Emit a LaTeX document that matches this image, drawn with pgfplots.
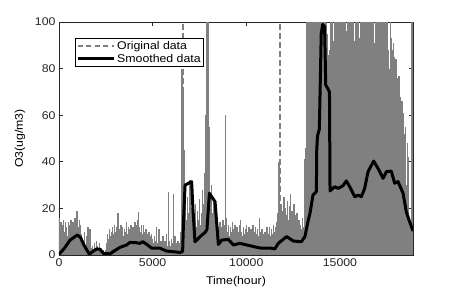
\documentclass[border=0pt]{standalone}
\usepackage{pgfplots}
\pgfplotsset{compat=1.18}
\usepackage{fontspec}
\setmainfont[FakeStretch=1.1]{Liberation Sans}
\definecolor{origgray}{RGB}{128,128,128}
\definecolor{axgray}{RGB}{38,38,38}
\begin{document}
\begin{tikzpicture}
\path[use as bounding box] (-59pt,-36pt) rectangle (398pt,255pt);
\begin{axis}[
  at={(0,0)}, anchor=south west,
  scale only axis, width=354pt, height=233pt,
  xmin=0, xmax=18900, ymin=0, ymax=100,
  xtick={0,5000,10000,15000}, ytick={0,20,40,60,80,100},
  scaled x ticks=false,
  /pgf/number format/1000 sep={},
  /pgf/number format/assume math mode=true,
  tick align=inside,
  major tick length=4pt,
  axis line style={axgray, line width=0.6pt},
  tick style={axgray, line width=0.6pt},
  tick label style={font=\fontsize{11.2}{13}\selectfont, text=axgray},
  label style={font=\fontsize{11.2}{13}\selectfont},
  xlabel={Time(hour)}, ylabel={O3(ug/m3)},
  xlabel style={at={(axis description cs:0.5,-0.1146)}, anchor=center},
  ylabel style={at={(axis description cs:-0.110,0.5)}, anchor=center},
  legend style={at={(axis description cs:0.045,0.931)}, anchor=north west, draw=black, line width=0.5pt, fill=white,
    font=\fontsize{11.2}{12.5}\selectfont, inner sep=1pt, row sep=-1pt, cells={anchor=west}},
  legend image code/.code={\draw[#1] (0pt,0pt) -- (36pt,0pt);},
]
\addlegendimage{origgray, line width=1.4pt, dash pattern=on 5pt off 3.5pt}
\addlegendentry{Original data}
\addlegendimage{black, line width=3pt}
\addlegendentry{Smoothed data}

\addplot[forget plot, ycomb, origgray, line width=1.5pt, mark=none] coordinates {
(0,16)(50,11)(100,14)(150,9)(200,13)(250,15)(300,10)(350,14)(400,12)(450,8)(500,14)(550,13)(600,11)(650,15)(700,12)(750,14)(800,10)(850,16)(900,13)(950,19)(1000,14)(1050,12)(1100,15)(1150,13)(1200,9)(1250,6)(1300,4)(1350,10)(1400,3)(1450,2)(1500,8)(1550,12)(1600,5)
(1650,11)(1700,3)(1750,2)(1800,4)(1850,2)(1900,5)(1950,3)(2000,6)(2050,4)(2100,3)(2150,5)(2200,2)(2250,3)(2300,1)(2350,2)(2400,1)(2450,1.5)(2500,2)
(2550,5)(2600,9)(2650,7)(2700,11)(2750,8)(2800,10)(2850,12)(2900,9)(2950,13)(3000,10)(3050,8)(3100,12)(3150,18)(3200,11)(3250,9)(3300,13)(3350,10)(3400,12)(3450,8)(3500,11)(3550,10)(3600,14)(3650,9)(3700,12)(3750,8)(3800,11)(3850,13)(3900,9)(3950,12)(4000,10)(4050,14)(4100,11)(4150,13)(4200,15)(4250,18.5)(4300,12)(4350,10)(4400,13)(4450,9)(4500,13)(4550,10)(4600,8)(4650,11)(4700,9)(4750,7)(4800,10)(4850,8)(4900,6)(4950,9)(5000,7)(5050,5)(5100,8)(5150,6)(5200,12)(5250,5)(5300,7)(5350,11)(5400,4)(5450,6)(5500,5)(5550,8)(5600,4)(5650,6)(5700,5)(5750,9)(5800,4)(5850,27)(5900,6)(5950,4)(6000,7)(6050,5)(6100,26)(6150,4)(6200,8)(6250,5)(6300,3)(6350,6)(6400,4)(6450,5)(6500,10)
(6550,80)(6600,78)(6650,70)(6700,45)(6750,22)(6800,15)(6850,25)(6900,12)(6950,18)(7000,32)(7050,14)(7100,20)(7150,11)(7200,17)(7250,13)(7300,22)(7350,12)(7400,19)(7450,15)(7500,24)(7550,13)(7600,18)(7650,28)(7700,16)(7750,22)(7800,35)(7850,60)(7900,100)(7950,100)(8000,55)(8050,25)(8100,22)(8150,30)(8200,18)(8250,24)(8300,20)(8350,16)(8400,22)(8450,14)(8500,12)
(8550,11)(8600,14)(8650,9)(8700,12)(8750,15)(8800,10)(8850,13)(8900,60)(8950,16)(9000,10)(9050,13)(9100,8)(9150,12)(9200,10)(9250,14)(9300,9)(9350,11)(9400,13)(9450,8)(9500,12)(9550,10)(9600,9)(9650,13)(9700,15)(9750,10)(9800,8)(9850,12)(9900,9)(9950,11)(10000,13)(10050,8)(10100,10)(10150,12)(10200,7)(10250,11)(10300,9)(10350,13)(10400,8)(10450,10)(10500,12)(10550,9)(10600,11)(10650,8)(10700,16)(10750,10)(10800,7)(10850,11)(10900,9)(10950,6)(11000,10)(11050,8)(11100,12)(11150,7)(11200,9)(11250,12)(11300,8)
(11350,11)(11400,9)(11450,13)(11500,10)(11550,12)(11600,14)(11650,11)(11700,18)(11750,40)(11800,22)(11850,22)(11900,15)(11950,19)(12000,25)(12050,14)(12100,20)(12150,17)(12200,23)(12250,15)(12300,21)(12350,26)(12400,16)(12450,19)(12500,13)(12550,22)(12600,17)(12650,14)(12700,18)(12750,12)(12800,15)(12850,10)(12900,13)(12950,11)(13000,16)(13050,12)(13100,41)(13150,30)(13200,46)
(13250,100)(13300,55)(13350,100)(13400,65)(13450,100)(13500,100)(13550,100)(13600,100)(13650,100)(13700,100)(13750,100)(13800,100)(13850,100)(13900,100)(13950,100)(14000,100)(14050,100)(14100,100)(14150,100)(14200,100)(14250,100)(14300,95)(14350,86)(14400,84)(14450,88)(14500,100)(14550,100)(14600,100)(14650,92)(14700,100)(14750,87)(14800,100)(14850,100)(14900,100)(14950,94)(15000,100)(15050,100)(15100,100)(15150,90)(15200,100)(15250,100)(15300,100)(15350,96)(15400,100)(15450,100)(15500,100)(15550,88)(15600,100)(15650,100)(15700,100)(15750,92)(15800,80)(15850,100)(15900,100)(15950,100)(16000,100)(16050,93)(16100,100)(16150,100)(16200,100)(16250,100)(16300,90)(16350,100)(16400,100)(16450,100)(16500,100)(16550,95)(16600,100)(16650,100)(16700,100)(16750,100)(16800,100)(16850,91)(16900,100)(16950,100)(17000,100)(17050,100)(17100,100)(17150,100)(17200,92)(17250,100)(17300,100)(17350,100)(17400,96)(17450,100)(17500,100)(17550,100)(17600,88)(17650,80)(17700,100)(17750,93)(17800,88)(17850,91)(17900,85)(17950,80)(18000,84)(18050,76)(18100,72)(18150,77)(18200,68)(18250,63)(18300,66)(18350,58)(18400,61)(18450,52)(18500,55)(18550,30)(18600,48)(18650,42)(18700,15)(18750,9)(18800,12)(18850,100)
};
\addplot[forget plot, origgray, line width=1.4pt, dash pattern=on 6pt off 3pt] coordinates {(6620,0)(6620,100)};
\addplot[forget plot, origgray, line width=1.4pt, dash pattern=on 6pt off 3pt] coordinates {(11790,0)(11790,100)};

\addplot[forget plot, black, line width=3pt, line join=round] coordinates {
(0,0.3)(300,3)(590,6.4)(980,8.6)(1150,7.5)(1350,4)(1620,0.3)(1800,1.5)(2010,2.6)(2180,2.5)(2370,0.7)(2720,0.5)(3000,2)(3260,3.3)(3610,4.3)(3790,5.4)(4100,5.3)(4320,5.0)(4470,5.7)(4700,4.5)(4950,2.9)(5390,2.9)(5750,1.7)(6460,1.1)(6600,1.5)(6650,15)(6730,30)(7080,31.5)(7150,20)(7260,5.7)(7530,7.9)(7800,9.7)(7900,11)(8030,26.5)(8330,22.9)(8510,4.5)(8690,6.4)(9040,6.7)(9310,4.3)(9660,5)(10020,4.3)(10560,3.3)(10800,2.9)(11270,3)(11520,2.6)(11710,5)(12150,7.9)(12510,6.0)(12940,5.7)(13130,7.9)(13290,14.3)(13400,17.9)(13560,25.7)(13740,27.2)(13760,45)(13800,51)(13900,54)(14000,95)(14080,99)(14180,98)(14240,73)(14380,71)(14440,70)(14470,27.5)(14720,29.3)(14900,28.6)(15160,29.7)(15340,31.8)(15520,29.3)(15790,25)(15960,25.7)(16140,25)(16320,28.6)(16500,35.8)(16800,40.3)(17030,37.2)(17300,32.9)(17480,35.8)(17740,36)(17920,30.8)(18100,31.5)(18370,26.5)(18540,18.6)(18720,14.3)(18900,10.3)
};
\end{axis}
\end{tikzpicture}
\end{document}
